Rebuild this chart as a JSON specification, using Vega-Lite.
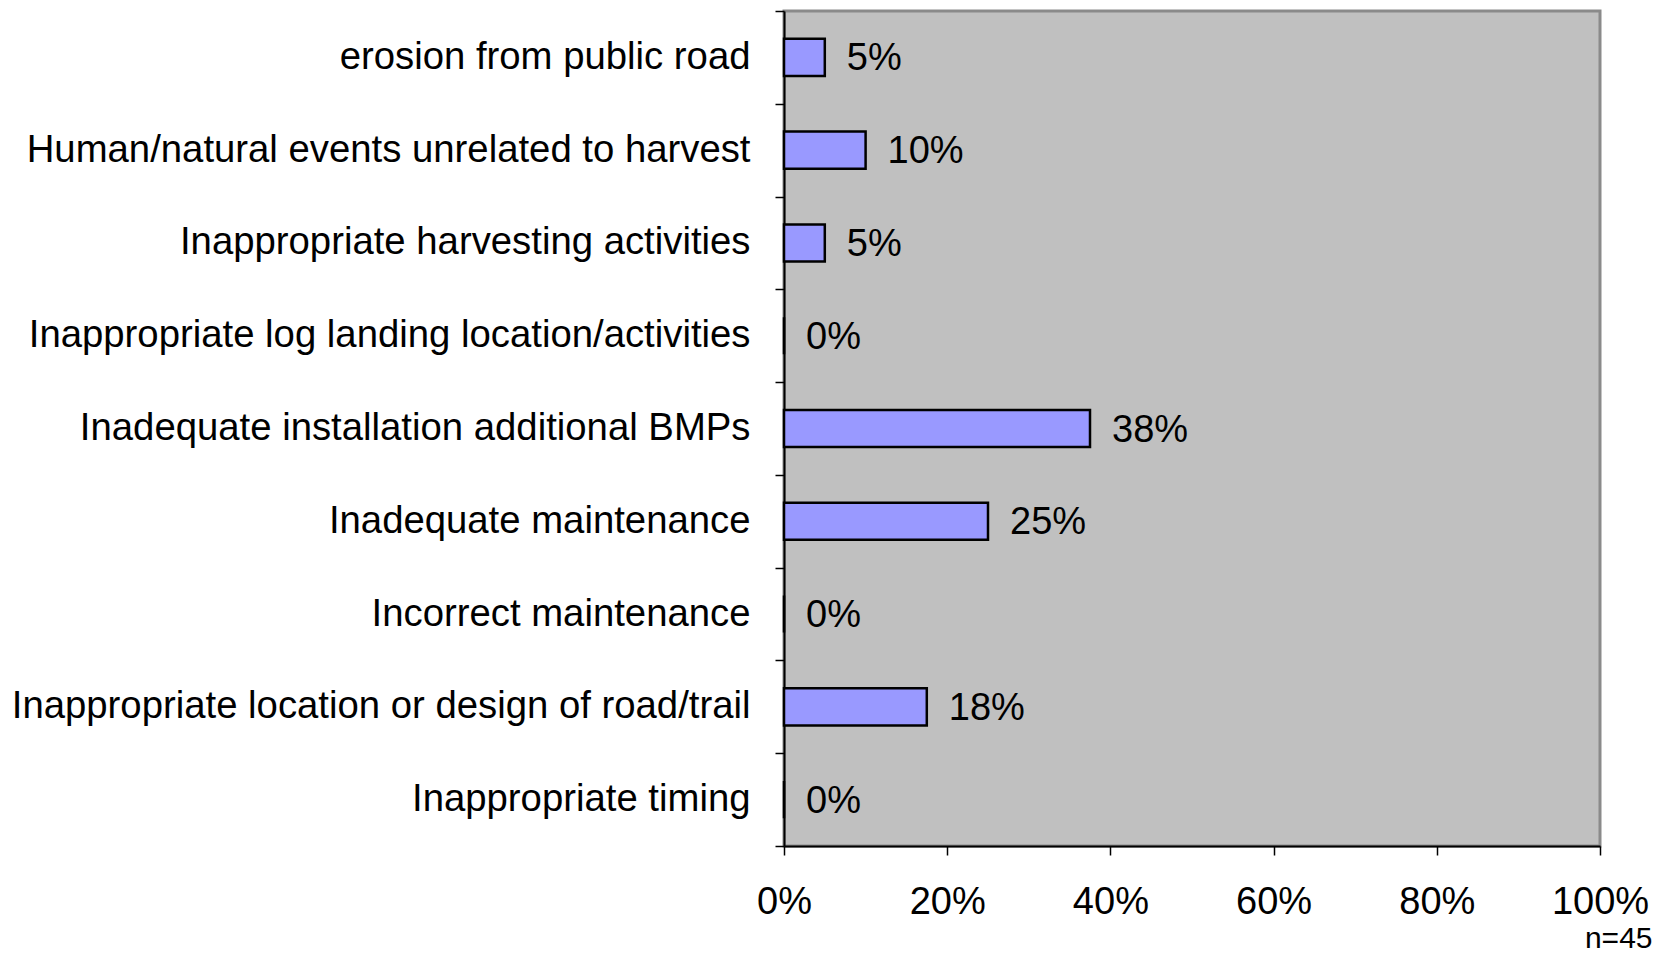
{
  "$schema": "https://vega.github.io/schema/vega-lite/v6.json",
  "autosize": {"type": "none"},
  "padding": {"left": 784, "top": 11, "right": 68, "bottom": 110},
  "width": 816,
  "height": 835,
  "background": "white",
  "config": {
    "view": {"fill": "#C0C0C0", "stroke": "#8a8a8a", "strokeWidth": 3},
    "font": "Liberation Sans"
  },
  "data": {
    "values": [
      {"cause": "erosion from public road", "pct": 5, "label": "5%"},
      {"cause": "Human/natural events unrelated to harvest", "pct": 10, "label": "10%"},
      {"cause": "Inappropriate harvesting activities", "pct": 5, "label": "5%"},
      {"cause": "Inappropriate log landing location/activities", "pct": 0, "label": "0%"},
      {"cause": "Inadequate installation additional BMPs", "pct": 37.5, "label": "38%"},
      {"cause": "Inadequate maintenance", "pct": 25, "label": "25%"},
      {"cause": "Incorrect maintenance", "pct": 0, "label": "0%"},
      {"cause": "Inappropriate location or design of road/trail", "pct": 17.5, "label": "18%"},
      {"cause": "Inappropriate timing", "pct": 0, "label": "0%"}
    ]
  },
  "encoding": {
    "y": {
      "field": "cause",
      "type": "nominal",
      "sort": null,
      "scale": {"paddingInner": 0, "paddingOuter": 0},
      "axis": {
        "title": null,
        "domainColor": "black",
        "domainWidth": 2,
        "tickColor": "black",
        "tickWidth": 1.5,
        "tickSize": 9,
        "tickBand": "extent",
        "labelFont": "Liberation Sans",
        "labelFontSize": 38.3,
        "labelColor": "black",
        "labelPadding": 25,
        "labelLimit": 0
      }
    },
    "x": {
      "field": "pct",
      "type": "quantitative",
      "scale": {"domain": [0, 100], "nice": false},
      "axis": {
        "values": [0, 20, 40, 60, 80, 100],
        "labelExpr": "datum.value + '%'",
        "grid": false,
        "domainColor": "black",
        "domainWidth": 2,
        "tickColor": "black",
        "tickWidth": 1.5,
        "tickSize": 9,
        "labelFont": "Liberation Sans",
        "labelFontSize": 38,
        "labelColor": "black",
        "labelPadding": 28,
        "labelFlush": false,
        "title": "n=45",
        "titleFont": "Liberation Sans",
        "titleFontSize": 30,
        "titleFontWeight": "normal",
        "titleColor": "black",
        "titleAnchor": "end",
        "titleAlign": "right",
        "titleX": 868,
        "titleY": 92,
        "titleBaseline": "middle"
      }
    }
  },
  "layer": [
    {
      "mark": {"type": "bar", "fill": "#9999FF", "stroke": "black", "strokeWidth": 2.5, "height": {"band": 0.4}}
    },
    {
      "mark": {"type": "text", "align": "left", "baseline": "middle", "dx": 22, "dy": 2, "fontSize": 38, "font": "Liberation Sans", "color": "black"},
      "encoding": {"text": {"field": "label"}}
    }
  ]
}
